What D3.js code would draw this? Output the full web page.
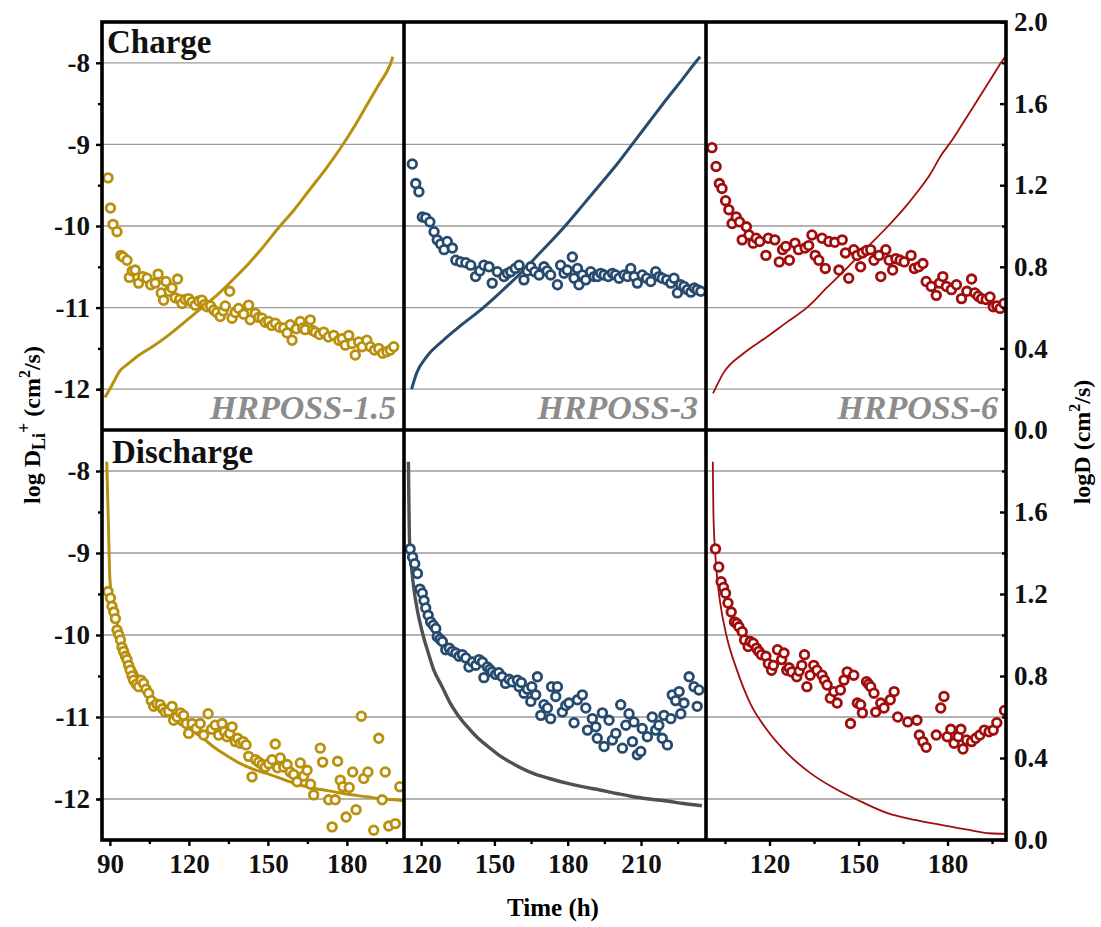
<!DOCTYPE html>
<html>
<head>
<meta charset="utf-8">
<script src="https://cdn.jsdelivr.net/npm/d3@7"></script>
<style>
body { margin: 0; background: #fff; }
svg text { font-family: "Liberation Serif", "Times New Roman", serif; font-weight: bold; }
</style>
</head>
<body>
<svg id="chart" width="1101" height="927"></svg>
<script>
//data: [time (h), value]
const charge15Pts = [[89.3,-9.41],[90.2,-9.78],[91.2,-9.98],[92.7,-10.07],[94.2,-10.36],[95.0,-10.38],[96.5,-10.42],[97.4,-10.63],[98.5,-10.55],[99.6,-10.54],[100.9,-10.70],[102.5,-10.62],[104.1,-10.64],[105.5,-10.72],[107.2,-10.70],[108.3,-10.59],[109.5,-10.82],[110.4,-10.91],[111.3,-10.68],[112.5,-10.80],[113.6,-10.76],[114.8,-10.88],[115.7,-10.65],[116.5,-10.90],[117.4,-10.95],[118.6,-10.90],[119.9,-10.89],[121.2,-10.93],[122.4,-10.97],[123.7,-10.92],[125.0,-10.91],[126.0,-10.96],[126.9,-10.99],[128.2,-10.98],[129.4,-11.03],[130.6,-11.06],[131.9,-11.11],[133.0,-11.04],[133.8,-10.98],[135.5,-10.80],[136.4,-11.13],[137.6,-11.06],[138.9,-11.01],[140.8,-11.08],[142.7,-10.97],[143.3,-11.15],[145.2,-11.07],[146.5,-11.12],[147.8,-11.13],[149.0,-11.18],[150.3,-11.17],[151.5,-11.22],[152.8,-11.19],[154.4,-11.24],[156.0,-11.25],[157.3,-11.31],[158.5,-11.21],[159.2,-11.40],[160.8,-11.26],[162.3,-11.17],[163.2,-11.25],[164.2,-11.27],[166.1,-11.15],[167.0,-11.28],[168.0,-11.30],[169.6,-11.33],[171.2,-11.30],[173.0,-11.36],[175.0,-11.34],[176.9,-11.40],[178.2,-11.38],[179.4,-11.46],[180.7,-11.34],[182.0,-11.44],[183.2,-11.58],[184.5,-11.42],[185.8,-11.48],[187.6,-11.40],[188.9,-11.48],[190.5,-11.52],[192.1,-11.50],[193.6,-11.56],[195.2,-11.54],[196.5,-11.52],[197.8,-11.48]];
const charge15Line = [[88.1,0.16],[89.5,0.19],[91.2,0.23],[93.8,0.29],[96.5,0.32],[101.4,0.37],[106.4,0.41],[112.3,0.465],[118.0,0.525],[125.0,0.60],[131.0,0.665],[137.0,0.74],[143.0,0.82],[149.0,0.91],[154.0,0.99],[160.0,1.08],[166.0,1.18],[172.0,1.28],[177.5,1.38],[182.5,1.48],[187.0,1.58],[192.0,1.69],[196.4,1.79],[197.5,1.83]];

const charge3Pts = [[116.4,-9.24],[117.8,-9.48],[119.1,-9.58],[120.5,-9.89],[121.9,-9.90],[123.6,-9.95],[125.3,-10.07],[126.6,-10.17],[128.0,-10.22],[129.4,-10.29],[130.7,-10.19],[132.8,-10.27],[134.2,-10.42],[136.2,-10.44],[138.3,-10.45],[140.3,-10.48],[142.3,-10.62],[144.0,-10.55],[145.7,-10.48],[147.8,-10.50],[149.1,-10.70],[151.2,-10.56],[153.9,-10.62],[155.3,-10.58],[156.7,-10.56],[158.5,-10.52],[160.1,-10.48],[162.1,-10.66],[163.5,-10.55],[164.9,-10.50],[166.5,-10.56],[168.3,-10.60],[170.3,-10.50],[171.6,-10.55],[173.0,-10.60],[175.8,-10.72],[177.1,-10.48],[178.5,-10.58],[179.8,-10.54],[181.9,-10.38],[182.6,-10.64],[184.0,-10.52],[184.6,-10.72],[186.0,-10.60],[187.4,-10.66],[189.4,-10.56],[190.8,-10.62],[192.2,-10.62],[193.5,-10.58],[194.9,-10.60],[196.6,-10.62],[198.3,-10.58],[199.6,-10.60],[201.0,-10.64],[203.1,-10.60],[204.5,-10.62],[205.8,-10.52],[207.2,-10.62],[208.5,-10.70],[210.5,-10.60],[212.3,-10.64],[214.0,-10.68],[216.0,-10.56],[217.4,-10.62],[218.7,-10.64],[220.5,-10.66],[222.2,-10.70],[223.5,-10.64],[224.9,-10.82],[226.2,-10.72],[227.6,-10.74],[229.0,-10.78],[230.4,-10.81],[231.8,-10.76],[233.0,-10.78],[234.5,-10.80]];
const charge3Line = [[116.1,0.20],[118.2,0.28],[122.3,0.36],[129.1,0.44],[136.0,0.51],[145.5,0.60],[152.0,0.67],[160.0,0.76],[168.0,0.86],[178.2,0.99],[186.0,1.10],[193.0,1.20],[200.0,1.30],[207.0,1.41],[214.0,1.52],[221.0,1.63],[227.0,1.72],[232.8,1.81],[234.2,1.83]];

const charge6Pts = [[100.6,-9.04],[102.0,-9.27],[103.1,-9.48],[104.0,-9.54],[105.2,-9.69],[106.3,-9.80],[107.4,-9.97],[108.8,-9.89],[109.9,-9.95],[110.8,-10.17],[112.2,-10.01],[113.1,-10.11],[114.5,-10.21],[115.5,-10.15],[116.7,-10.19],[118.8,-10.36],[119.6,-10.15],[121.8,-10.17],[123.3,-10.44],[124.4,-10.29],[125.5,-10.25],[126.7,-10.42],[128.6,-10.21],[129.8,-10.29],[132.0,-10.27],[133.2,-10.24],[134.3,-10.11],[135.4,-10.36],[136.6,-10.42],[137.7,-10.15],[138.8,-10.52],[140.0,-10.19],[142.0,-10.20],[143.4,-10.54],[144.5,-10.17],[145.6,-10.33],[146.7,-10.64],[148.4,-10.29],[149.5,-10.36],[150.7,-10.50],[151.3,-10.33],[152.7,-10.30],[154.1,-10.29],[155.2,-10.42],[156.9,-10.36],[157.5,-10.62],[159.2,-10.29],[160.3,-10.42],[161.5,-10.54],[162.6,-10.40],[164.0,-10.42],[165.4,-10.44],[167.7,-10.36],[168.8,-10.52],[170.3,-10.50],[171.7,-10.46],[172.8,-10.68],[174.5,-10.74],[176.2,-10.85],[177.3,-10.70],[178.4,-10.62],[179.6,-10.74],[181.3,-10.78],[183.0,-10.72],[184.7,-10.89],[186.5,-10.80],[188.1,-10.65],[189.2,-10.82],[190.3,-10.86],[191.5,-10.89],[193.0,-10.90],[194.3,-10.87],[195.4,-10.99],[196.6,-10.98],[197.7,-11.01],[199.0,-10.95]];
const charge6Line = [[101.0,0.18],[104.5,0.28],[111.3,0.376],[119.2,0.457],[126.0,0.53],[132.6,0.60],[139.5,0.70],[146.5,0.80],[153.2,0.90],[160.0,1.00],[165.0,1.08],[170.0,1.17],[174.0,1.25],[178.0,1.35],[181.5,1.42],[185.0,1.50],[188.5,1.58],[191.5,1.65],[195.0,1.73],[198.0,1.80],[199.4,1.83]];

const discharge15Pts = [[89.3,-9.47],[90.2,-9.55],[90.8,-9.65],[91.5,-9.72],[92.1,-9.80],[92.7,-9.94],[93.4,-10.00],[94.0,-10.06],[94.6,-10.15],[95.2,-10.20],[95.9,-10.26],[96.5,-10.30],[97.1,-10.37],[97.7,-10.43],[98.4,-10.50],[99.0,-10.55],[100.0,-10.60],[100.9,-10.63],[101.8,-10.55],[102.8,-10.59],[103.7,-10.66],[104.7,-10.71],[105.7,-10.80],[106.6,-10.87],[107.8,-10.84],[109.1,-10.85],[110.0,-10.90],[111.0,-10.94],[112.3,-10.93],[113.6,-10.87],[114.2,-11.04],[115.5,-11.00],[116.8,-10.95],[118.0,-10.98],[119.0,-11.08],[119.9,-11.20],[121.2,-11.08],[122.8,-11.14],[124.3,-11.08],[125.6,-11.22],[127.3,-10.96],[128.6,-11.15],[130.0,-11.10],[131.3,-11.22],[132.6,-11.08],[133.5,-11.18],[134.5,-11.24],[135.5,-11.20],[136.4,-11.12],[137.6,-11.30],[138.5,-11.26],[139.5,-11.32],[140.6,-11.30],[141.7,-11.34],[142.7,-11.48],[144.0,-11.73],[145.3,-11.52],[146.5,-11.55],[147.8,-11.58],[149.0,-11.61],[150.3,-11.57],[151.6,-11.52],[152.8,-11.33],[153.7,-11.62],[154.7,-11.50],[156.0,-11.61],[157.3,-11.58],[158.5,-11.67],[159.8,-11.70],[161.1,-11.79],[162.3,-11.56],[163.6,-11.72],[164.9,-11.65],[166.2,-11.82],[167.4,-11.95],[169.9,-11.38],[170.8,-11.55],[172.5,-12.56],[173.1,-12.01],[174.4,-12.34],[175.6,-12.01],[176.5,-11.54],[177.5,-11.77],[178.5,-11.85],[179.7,-12.22],[180.9,-11.86],[182.2,-11.67],[183.5,-12.13],[185.5,-10.99],[186.4,-11.75],[188.0,-11.67],[190.2,-12.38],[192.1,-11.26],[193.4,-12.01],[194.6,-11.67],[195.9,-12.33],[198.4,-12.30],[200.1,-11.85]];
const discharge15Line = [[88.8,1.845],[89.1,1.70],[89.4,1.56],[90.0,1.27],[91.3,1.14],[93.8,1.01],[96.0,0.92],[98.9,0.845],[102.0,0.77],[105.2,0.70],[108.5,0.65],[111.6,0.62],[115.0,0.58],[119.2,0.545],[125.0,0.50],[129.3,0.455],[134.0,0.415],[139.4,0.374],[144.5,0.345],[149.5,0.325],[156.0,0.295],[162.2,0.268],[168.5,0.25],[174.8,0.236],[181.0,0.222],[187.5,0.211],[193.5,0.20],[199.5,0.195],[201.5,0.19]];

const discharge3Pts = [[115.5,-8.95],[116.5,-9.05],[117.4,-9.13],[118.5,-9.25],[119.5,-9.44],[120.5,-9.49],[121.2,-9.58],[121.9,-9.67],[122.9,-9.76],[123.9,-9.84],[125.0,-9.88],[126.0,-9.92],[126.6,-10.02],[127.7,-10.05],[128.7,-10.08],[130.1,-10.18],[131.5,-10.16],[132.8,-10.20],[134.2,-10.22],[135.5,-10.26],[136.9,-10.24],[138.3,-10.28],[139.6,-10.39],[141.0,-10.33],[142.4,-10.37],[143.7,-10.30],[145.1,-10.33],[145.7,-10.52],[147.1,-10.39],[148.1,-10.42],[149.1,-10.45],[150.5,-10.48],[151.8,-10.46],[153.2,-10.51],[154.6,-10.59],[156.0,-10.54],[157.3,-10.57],[159.4,-10.55],[160.1,-10.63],[161.0,-10.58],[162.1,-10.71],[163.5,-10.66],[164.9,-10.81],[165.3,-10.63],[166.9,-10.73],[167.6,-10.51],[169.0,-10.98],[170.3,-10.85],[171.7,-10.89],[173.0,-11.02],[173.4,-10.63],[175.1,-10.75],[175.8,-10.63],[177.8,-10.94],[179.2,-10.86],[180.5,-10.83],[182.6,-11.07],[184.0,-10.79],[186.0,-10.73],[187.4,-10.89],[188.1,-11.16],[190.1,-11.02],[191.5,-11.12],[192.1,-11.26],[194.2,-10.95],[194.9,-11.36],[196.9,-11.04],[198.3,-11.28],[199.7,-11.20],[201.7,-10.85],[202.4,-11.38],[203.8,-11.10],[205.1,-10.96],[206.5,-11.30],[207.1,-11.06],[208.5,-11.46],[209.9,-11.42],[210.5,-11.14],[212.6,-11.24],[214.6,-11.00],[216.0,-11.16],[217.3,-11.10],[218.7,-11.26],[219.4,-10.98],[220.8,-11.34],[222.2,-11.02],[222.8,-10.73],[224.2,-10.80],[225.6,-10.69],[226.3,-10.96],[227.6,-10.83],[229.7,-10.51],[231.7,-10.63],[233.0,-10.87],[233.7,-10.67]];
const discharge3Line = [[114.8,1.845],[115.0,1.65],[115.2,1.48],[116.2,1.317],[117.1,1.22],[118.2,1.138],[120.9,0.995],[123.0,0.91],[125.0,0.835],[128.5,0.75],[131.8,0.67],[135.0,0.61],[138.7,0.555],[143.0,0.50],[147.5,0.455],[152.3,0.41],[158.0,0.37],[165.9,0.325],[172.5,0.30],[179.6,0.277],[186.0,0.26],[193.2,0.244],[200.0,0.227],[206.9,0.211],[213.5,0.20],[220.5,0.19],[227.5,0.178],[234.9,0.167]];

const discharge6Pts = [[101.8,-8.95],[102.9,-9.17],[103.7,-9.35],[104.5,-9.42],[105.2,-9.49],[106.0,-9.61],[107.1,-9.72],[108.2,-9.84],[109.0,-9.86],[109.7,-9.90],[110.8,-9.96],[111.6,-10.06],[112.8,-10.14],[113.5,-10.08],[114.5,-10.10],[115.6,-10.16],[116.4,-10.20],[117.3,-10.24],[118.8,-10.26],[119.6,-10.35],[120.7,-10.43],[121.3,-10.37],[122.7,-10.18],[124.1,-10.30],[124.9,-10.22],[125.8,-10.43],[126.6,-10.40],[127.5,-10.45],[129.2,-10.51],[130.0,-10.44],[130.9,-10.37],[131.8,-10.24],[132.6,-10.63],[133.7,-10.49],[134.9,-10.37],[136.0,-10.43],[137.7,-10.49],[138.5,-10.55],[139.4,-10.61],[140.5,-10.77],[141.7,-10.69],[142.8,-10.83],[143.9,-10.67],[145.1,-10.55],[146.2,-10.45],[147.3,-11.08],[148.4,-10.49],[149.6,-10.83],[150.7,-10.85],[151.3,-10.95],[152.7,-10.57],[153.4,-10.60],[154.1,-10.63],[155.2,-10.71],[155.8,-10.94],[157.5,-10.83],[158.6,-10.89],[160.7,-10.79],[162.0,-10.69],[163.2,-11.00],[166.6,-11.06],[169.7,-11.04],[170.5,-11.22],[171.7,-11.30],[172.8,-11.37],[176.2,-11.22],[177.7,-10.89],[178.8,-10.75],[179.9,-11.24],[181.1,-11.15],[182.2,-11.32],[183.6,-11.24],[184.5,-11.15],[185.2,-11.39],[186.4,-11.28],[188.1,-11.30],[189.5,-11.26],[190.9,-11.22],[192.4,-11.16],[194.0,-11.18],[195.4,-11.16],[196.6,-11.07],[199.2,-10.92]];
const discharge6Line = [[100.9,1.845],[101.0,1.70],[101.1,1.594],[101.7,1.40],[102.5,1.26],[103.4,1.155],[105.6,0.99],[109.0,0.83],[113.5,0.667],[119.2,0.537],[126.0,0.423],[133.9,0.325],[141.9,0.252],[150.9,0.187],[160.0,0.13],[169.0,0.098],[178.1,0.073],[187.2,0.049],[194.0,0.033],[199.6,0.03]];

//axis ticks and labels
const sampleNames = ['HRPOSS-1.5', 'HRPOSS-3', 'HRPOSS-6'];
const rowNames = ['Charge', 'Discharge'];
const timeDomains = [[87, 201.7], [113, 236.6], [98.6, 199.7]];
const timeMajor = [[90, 120, 150, 180], [120, 150, 180, 210], [120, 150, 180]];
const timeMinor = [[105, 135, 165, 195], [135, 165, 195, 225], [105, 135, 165, 195]];
const liMajor = [-8, -9, -10, -11, -12];
const liMinor = [-8.5, -9.5, -10.5, -11.5, -12];
const dMajorTop = [0, 0.4, 0.8, 1.2, 1.6, 2.0];
const dMajorBottom = [0, 0.4, 0.8, 1.2, 1.6];
const dMinor = [0.2, 0.6, 1.0, 1.4, 1.8];

//colors
const gold = '#b8900c', blue = '#274b6f', red = '#a10d0d', grey = '#505050';

//layout
const colX = [[102, 404], [404, 706], [706, 1006]];
const rowY = [[22, 430], [430, 840]];

const svg = d3.select('#chart');

const panels = [
	{ row: 0, col: 0, pts: charge15Pts, line: charge15Line, c: gold, lc: gold, lw: 3 },
	{ row: 0, col: 1, pts: charge3Pts, line: charge3Line, c: blue, lc: blue, lw: 3 },
	{ row: 0, col: 2, pts: charge6Pts, line: charge6Line, c: red, lc: red, lw: 1.8 },
	{ row: 1, col: 0, pts: discharge15Pts, line: discharge15Line, c: gold, lc: gold, lw: 3 },
	{ row: 1, col: 1, pts: discharge3Pts, line: discharge3Line, c: blue, lc: grey, lw: 3.4 },
	{ row: 1, col: 2, pts: discharge6Pts, line: discharge6Line, c: red, lc: red, lw: 1.8 }
];

const defs = svg.append('defs');

panels.forEach((p, i) => {
	const [x0, x1] = colX[p.col];
	const [y0, y1] = rowY[p.row];
	const x = d3.scaleLinear().domain(timeDomains[p.col]).range([x0, x1]);
	const yL = d3.scaleLinear().domain([-12.5, -7.5]).range([y1, y0]);
	const yR = d3.scaleLinear().domain([0, 2]).range([y1, y0]);

	defs.append('clipPath').attr('id', 'clip' + i)
		.append('rect').attr('x', x0).attr('y', y0).attr('width', x1 - x0).attr('height', y1 - y0);

	const g = svg.append('g').attr('clip-path', `url(#clip${i})`);

	//grid
	g.selectAll('.grid').data(liMajor).enter().append('line')
		.attr('x1', x0).attr('x2', x1)
		.attr('y1', d => yL(d)).attr('y2', d => yL(d))
		.attr('stroke', '#9a9a9a').attr('stroke-width', 1.3);

	//line
	g.append('path').datum(p.line)
		.attr('fill', 'none')
		.attr('stroke', p.lc)
		.attr('stroke-width', p.lw)
		.attr('d', d3.line().x(d => x(d[0])).y(d => yR(d[1])).curve(d3.curveMonotoneX));

	//scatter
	g.selectAll('circle').data(p.pts).enter().append('circle')
		.attr('cx', d => x(d[0])).attr('cy', d => yL(d[1]))
		.attr('r', 4.3)
		.attr('fill', '#fff')
		.attr('stroke', p.c)
		.attr('stroke-width', 2.8);

	//sample label
	if (p.row == 0) {
		svg.append('text')
			.attr('x', x1 - 8).attr('y', y1 - 11)
			.attr('text-anchor', 'end')
			.attr('font-size', 34)
			.attr('font-style', 'italic')
			.attr('fill', '#8c8c8c')
			.text(sampleNames[p.col]);
	}

	//bottom axis
	if (p.row == 1) {
		svg.append('g').attr('transform', `translate(0,${y1})`)
			.call(d3.axisBottom(x).tickValues(timeMajor[p.col]).tickSize(6).tickPadding(8).tickFormat(d => d))
			.call(styleAxis);
		svg.append('g').attr('transform', `translate(0,${y1})`)
			.call(d3.axisBottom(x).tickValues(timeMinor[p.col]).tickSize(4).tickFormat(''))
			.call(styleAxis);
	}

	//left axis
	if (p.col == 0) {
		svg.append('g').attr('transform', `translate(${x0},0)`)
			.call(d3.axisLeft(yL).tickValues(liMajor).tickSize(6).tickPadding(6).tickFormat(d => d))
			.call(styleAxis);
		svg.append('g').attr('transform', `translate(${x0},0)`)
			.call(d3.axisLeft(yL).tickValues(liMinor).tickSize(4).tickFormat(''))
			.call(styleAxis);
	}

	//right axis
	if (p.col == 2) {
		svg.append('g').attr('transform', `translate(${x1},0)`)
			.call(d3.axisRight(yR).tickValues(p.row == 0 ? dMajorTop : dMajorBottom).tickSize(-6).tickPadding(8).tickFormat(d3.format('.1f')))
			.call(styleAxis);
		svg.append('g').attr('transform', `translate(${x1},0)`)
			.call(d3.axisRight(yR).tickValues(dMinor).tickSize(-4).tickFormat(''))
			.call(styleAxis);
	}
});

function styleAxis(sel) {
	sel.select('.domain').remove();
	sel.selectAll('line').attr('stroke', '#000').attr('stroke-width', 2.4);
	sel.selectAll('text').attr('font-size', 27).attr('fill', '#111')
		.style('font-family', '"Liberation Serif", serif').style('font-weight', 'bold');
}

//frame
const frame = svg.append('g').attr('stroke', '#000').attr('stroke-width', 3.6).attr('fill', 'none');
frame.append('rect').attr('x', 102).attr('y', 22).attr('width', 904).attr('height', 818);
frame.append('line').attr('x1', 404).attr('x2', 404).attr('y1', 22).attr('y2', 840);
frame.append('line').attr('x1', 706).attr('x2', 706).attr('y1', 22).attr('y2', 840);
frame.append('line').attr('x1', 102).attr('x2', 1006).attr('y1', 430).attr('y2', 430);

//row titles
svg.append('text').attr('x', 107).attr('y', 53).attr('font-size', 33).attr('fill', '#111').text(rowNames[0]);
svg.append('text').attr('x', 112).attr('y', 463).attr('font-size', 33).attr('fill', '#111').text(rowNames[1]);

//axis titles
const yt = svg.append('text')
	.attr('transform', 'translate(40,425) rotate(-90)')
	.attr('text-anchor', 'middle')
	.attr('font-size', 24);
yt.append('tspan').text('log D');
yt.append('tspan').attr('font-size', 18).attr('dy', 5).text('Li');
yt.append('tspan').attr('font-size', 18).attr('dy', -15).text('+');
yt.append('tspan').attr('dy', 10).text(' (cm');
yt.append('tspan').attr('font-size', 16).attr('dy', -10).text('2');
yt.append('tspan').attr('dy', 10).text('/s)');

const rt = svg.append('text')
	.attr('transform', 'translate(1090,442) rotate(-90)')
	.attr('text-anchor', 'middle')
	.attr('font-size', 24);
rt.append('tspan').text('logD (cm');
rt.append('tspan').attr('font-size', 16).attr('dy', -10).text('2');
rt.append('tspan').attr('dy', 10).text('/s)');

svg.append('text').attr('x', 553).attr('y', 916).attr('text-anchor', 'middle').attr('font-size', 25).text('Time (h)');
</script>
</body>
</html>
